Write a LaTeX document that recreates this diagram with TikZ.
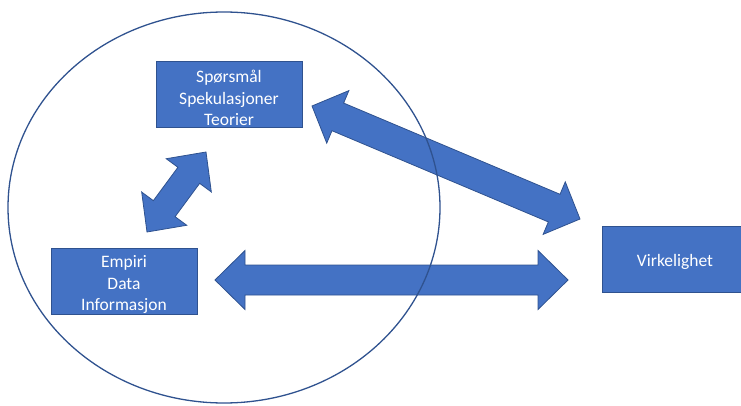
\documentclass[tikz,border=0pt]{standalone}
\usepackage{fontspec}
\setmainfont{Carlito}
\usetikzlibrary{calc}
\definecolor{boxblue}{HTML}{4472C4}
\definecolor{edgeblue}{HTML}{2F528F}
\newcommand{\topstrut}{\rule{0pt}{19pt}}
\newcommand{\dblblockarrow}[5]{%
  % #1,#2 tip names, #3 head length, #4 head half width, #5 shaft half width
  \coordinate (#1h) at ($(#1)!#3!(#2)$);
  \coordinate (#2h) at ($(#2)!#3!(#1)$);
  \draw[arrowshape] (#1)
    -- ($(#1h)!#4!90:(#2)$) -- ($(#1h)!#5!90:(#2)$)
    -- ($(#2h)!#5!-90:(#1)$) -- ($(#2h)!#4!-90:(#1)$)
    -- (#2)
    -- ($(#2h)!#4!90:(#1)$) -- ($(#2h)!#5!90:(#1)$)
    -- ($(#1h)!#5!-90:(#2)$) -- ($(#1h)!#4!-90:(#2)$)
    -- cycle;}
\begin{document}
\begin{tikzpicture}[x=1pt,y=-1pt,
  box/.style={rectangle, fill=boxblue, draw=edgeblue, line width=1pt,
    minimum width=146pt, minimum height=66pt, inner sep=0pt,
    text=white, align=center, font=\fontsize{17.5}{21.5}\selectfont},
  arrowshape/.style={fill=boxblue, draw=edgeblue, line width=0.8pt, line join=miter},
  ring/.style={draw=edgeblue, line width=1.3pt}]
\useasboundingbox (0,0) rectangle (741,406);
\node[box] (teori) at (229,95) {\topstrut Spørsmål\\Spekulasjoner\\Teorier};
\node[box] (empiri) at (124,281) {\topstrut Empiri\\Data\\Informasjon};
\node[box] (virk) at (675,259) {\topstrut Virkelighet};
\coordinate (a1) at (215,280);
\coordinate (b1) at (568,280);
\coordinate (a2) at (312,106);
\coordinate (b2) at (580,219);
\coordinate (a3) at (147,232);
\coordinate (b3) at (206,152);
\dblblockarrow{a1}{b1}{30pt}{29.5pt}{15pt}
\dblblockarrow{a2}{b2}{28pt}{28.5pt}{15pt}
\dblblockarrow{a3}{b3}{29pt}{28pt}{13.5pt}
\draw[ring] (224,207.5) ellipse [x radius=216, y radius=195.5];
\end{tikzpicture}
\end{document}
